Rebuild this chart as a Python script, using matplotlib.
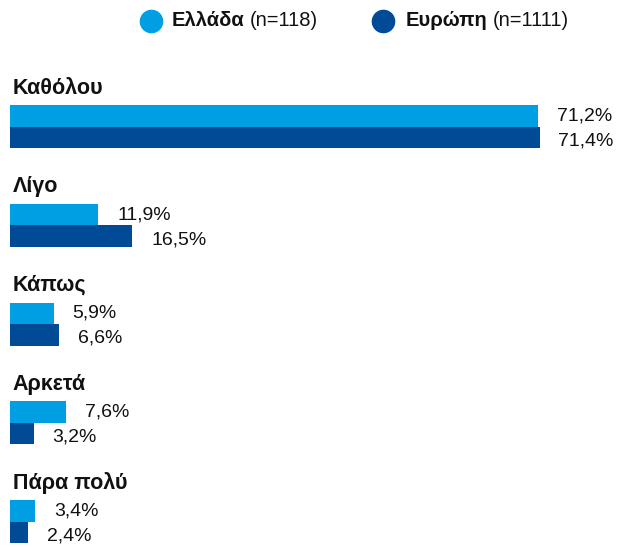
import matplotlib
matplotlib.use("Agg")
import matplotlib.pyplot as plt
from matplotlib.lines import Line2D

plt.rcParams['font.family'] = ['Liberation Sans', 'DejaVu Sans']

categories = ["Καθόλου", "Λίγο", "Κάπως", "Αρκετά", "Πάρα πολύ"]
greece = [71.2, 11.9, 5.9, 7.6, 3.4]
europe = [71.4, 16.5, 6.6, 3.2, 2.4]
series_names = ["Ελλάδα", "Ευρώπη"]
series_n = ["(n=118)", "(n=1111)"]
colors = ["#009FE3", "#004A96"]

W, H = 618, 547
fig = plt.figure(figsize=(W / 100, H / 100), dpi=100)

px_per_pct = 7.416
left_px = 10
ax = fig.add_axes([left_px / W, 0, 1 - left_px / W, 1])
ax.set_xlim(0, (W - left_px) / px_per_pct)
ax.set_ylim(H, 0)
ax.axis("off")

row0 = 116.0
row_gap = 98.7
bar_h = 21.5
cat_fs = 15.5
val_fs = 14
leg_fs = 14.5

for i, cat in enumerate(categories):
    yl = row0 + row_gap * i
    yd = yl + bar_h
    ax.text(0.35, yl - 28, cat, fontsize=cat_fs, fontweight="bold", va="center", ha="left",
            color="#111111")
    for y, v, c, dy in ((yl, greece[i], colors[0], 0), (yd, europe[i], colors[1], -2.5)):
        ax.barh(y, v, height=bar_h, color=c, left=0)
        ax.annotate(f"{v:.1f}%".replace(".", ","), xy=(v, y), xytext=(13.5, dy),
                    textcoords="offset points", va="center", ha="left",
                    fontsize=val_fs, color="#111111")

# legend
leg_y = 1 - 21 / H
for x_c, x_t, name, n, c in ((151, 172, series_names[0], series_n[0], colors[0]),
                             (383, 406, series_names[1], series_n[1], colors[1])):
    fig.add_artist(Line2D([x_c / W], [leg_y], marker="o", markersize=16,
                          color=c, linestyle="none", transform=fig.transFigure))
    t = fig.text(x_t / W, leg_y, name, fontsize=leg_fs, fontweight="bold",
                 va="center", ha="left", color="#111111")
    fig.canvas.draw()
    bb = t.get_window_extent()
    fig.text((bb.x1 + 5) / W, leg_y, n, fontsize=leg_fs, va="center", ha="left",
             color="#111111")

fig.savefig("out.png", dpi=100)
